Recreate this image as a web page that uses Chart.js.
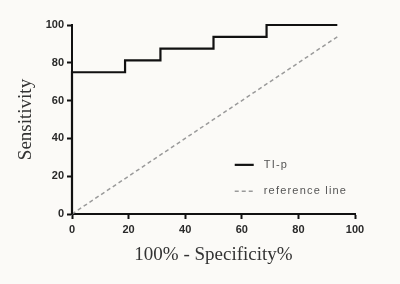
<!DOCTYPE html>
<html>
<head>
<meta charset="utf-8">
<script src="https://cdn.jsdelivr.net/npm/chart.js@4/dist/chart.umd.min.js"></script>
<style>
  html, body { margin: 0; padding: 0; background: #fbfaf7; }
  #wrap { width: 400px; height: 284px; position: relative; }
</style>
</head>
<body>
<div id="wrap"><canvas id="roc"></canvas></div>
<script>
// ROC curve corners (100% - specificity, sensitivity)
const rocFpr = [0, 0, 18.75, 31.25, 50, 68.75, 93.75];
const rocTpr = [0, 75, 81.25, 87.5, 93.75, 100, 100];
// reference diagonal
const refX = [0, 93.75];
const refY = [0, 93.75];
const tickValues = [0, 20, 40, 60, 80, 100];
const seriesNames = ['TI-p', 'reference line'];

const toPoints = (xs, ys) => xs.map((x, i) => ({ x, y: ys[i] }));

// little legend drawn inside the plot area, lower right
const insideLegend = {
  id: 'insideLegend',
  afterDraw(chart) {
    const { ctx, scales } = chart;
    const x0 = scales.x.getPixelForValue(57.5);
    const rows = [scales.y.getPixelForValue(26), scales.y.getPixelForValue(12)];
    ctx.save();
    ctx.font = '11px "Liberation Sans", Arial, sans-serif';
    ctx.letterSpacing = '1.2px';
    ctx.textBaseline = 'middle';
    chart.data.datasets.forEach((ds, i) => {
      ctx.beginPath();
      ctx.strokeStyle = ds.borderColor;
      ctx.lineWidth = ds.borderWidth;
      ctx.setLineDash(ds.borderDash || []);
      ctx.moveTo(x0, rows[i]);
      ctx.lineTo(x0 + 19, rows[i]);
      ctx.stroke();
      ctx.setLineDash([]);
      ctx.fillStyle = '#555';
      ctx.fillText(seriesNames[i], x0 + 29, rows[i]);
    });
    ctx.restore();
  }
};

new Chart(document.getElementById('roc'), {
  type: 'scatter',
  data: {
    datasets: [
      {
        label: seriesNames[0],
        data: toPoints(rocFpr, rocTpr),
        showLine: true,
        stepped: 'before',
        borderColor: '#111',
        borderWidth: 2.2,
        pointRadius: 0,
        clip: 4,
      },
      {
        label: seriesNames[1],
        data: toPoints(refX, refY),
        showLine: true,
        borderColor: '#9a9a9a',
        borderWidth: 1.5,
        borderDash: [4, 3],
        pointRadius: 0,
        clip: 4,
      },
    ],
  },
  options: {
    responsive: true,
    maintainAspectRatio: false,
    animation: false,
    layout: { padding: { top: 25, right: 45, left: 0, bottom: 0 } },
    plugins: { legend: { display: false }, tooltip: { enabled: false } },
    scales: {
      x: {
        min: 0,
        max: 100,
        afterBuildTicks: (s) => { s.ticks = tickValues.map((v) => ({ value: v })); },
        afterFit: (s) => { s.height = 70; },
        border: { color: '#111', width: 2 },
        grid: { drawOnChartArea: false, tickLength: 5, color: '#111', tickWidth: 2 },
        ticks: {
          color: '#2a2a2a',
          padding: 4,
          font: { family: '"Liberation Sans", Arial, sans-serif', size: 11, weight: 'bold' },
        },
        title: {
          display: true,
          text: '100% - Specificity%',
          color: '#333',
          padding: { top: 0, bottom: 18 },
          font: { family: '"Liberation Serif", "Times New Roman", serif', size: 19 },
        },
      },
      y: {
        min: 0,
        max: 100,
        afterBuildTicks: (s) => { s.ticks = tickValues.map((v) => ({ value: v })); },
        afterFit: (s) => { s.width = 72; },
        border: { color: '#111', width: 2 },
        grid: { drawOnChartArea: false, tickLength: 5, color: '#111', tickWidth: 2 },
        ticks: {
          color: '#2a2a2a',
          padding: 3,
          font: { family: '"Liberation Sans", Arial, sans-serif', size: 11, weight: 'bold' },
        },
        title: {
          display: true,
          text: 'Sensitivity',
          color: '#333',
          padding: { top: 15, bottom: 0 },
          font: { family: '"Liberation Serif", "Times New Roman", serif', size: 19 },
        },
      },
    },
  },
  plugins: [insideLegend],
});
</script>
</body>
</html>
